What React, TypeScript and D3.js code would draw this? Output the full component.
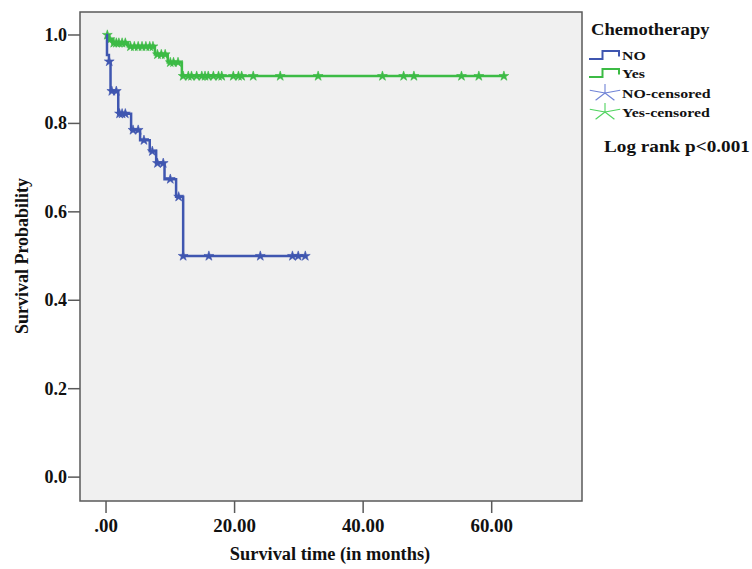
import React, { useRef, useEffect } from "react";
import * as d3 from "d3";

// Kaplan-Meier steps (time in months, survival probability)
const noTimes = [0, 0.15, 0.45, 0.7, 1.9, 3.9, 5.3, 6.8, 7.8, 9.1, 10.9, 12.0, 31.0];
const noSurv = [1.0, 0.955, 0.94, 0.873, 0.822, 0.785, 0.762, 0.737, 0.71, 0.674, 0.634, 0.5, 0.5];
const noCensored = [0.5, 0.9, 1.6, 2.1, 2.5, 3.0, 4.2, 5.0, 5.9, 7.2, 8.0, 8.9, 10.0, 11.3, 12.0, 16.0, 24.0, 29.0, 29.9, 31.0];

const yesTimes = [0, 0.3, 1.0, 3.4, 7.6, 9.6, 11.8, 62.0];
const yesSurv = [1.0, 0.99, 0.982, 0.974, 0.956, 0.938, 0.907, 0.907];
const yesCensored = [
  0.2, 0.6, 1.2, 1.6, 2.0, 2.5, 3.0, 3.8, 4.4, 5.0, 5.6, 6.2, 6.8, 7.3, 8.0, 8.6, 9.2, 10.0, 10.5, 11.2,
  12.0, 12.8, 13.3, 14.1, 14.9, 15.4, 15.9, 16.7, 17.5, 18.0, 19.8, 20.6, 21.1, 22.9, 27.1, 33.0,
  43.0, 46.3, 47.9, 55.3, 58.0, 61.9,
];

const xTicks = [0, 20, 40, 60];
const xTickLabels = [".00", "20.00", "40.00", "60.00"];
const yTicks = [0, 0.2, 0.4, 0.6, 0.8, 1.0];
const yTickLabels = ["0.0", "0.2", "0.4", "0.6", "0.8", "1.0"];

const legendLabels = ["NO", "Yes", "NO-censored", "Yes-censored"];

const BLUE = "#3f56b0";
const GREEN = "#3cbb45";
const BLUE_LIGHT = "#6f82d6";
const GREEN_LIGHT = "#4fd35e";

const W = 752;
const H = 569;
const plot = { left: 80, top: 12, right: 582, bottom: 501 };

const App = () => {
  const svgRef = useRef<SVGSVGElement>(null);

  useEffect(() => {
    const svg = d3.select(svgRef.current);
    svg.selectAll("*").remove();

    const font = "'Liberation Serif', 'Times New Roman', serif";
    const addText = (g, x, y, str, size, anchor, sx = 1, rot = 0) =>
      g
        .append("text")
        .attr("transform", `translate(${x},${y}) rotate(${rot}) scale(${sx},1)`)
        .attr("text-anchor", anchor)
        .style("font-family", font)
        .style("font-weight", "bold")
        .style("font-size", `${size}px`)
        .style("fill", "#111")
        .text(str);

    const xScale = d3.scaleLinear().domain([-4.05, 74.05]).range([plot.left, plot.right]);
    const yScale = d3.scaleLinear().domain([-0.054, 1.052]).range([plot.bottom, plot.top]);

    // plot background + frame
    svg
      .append("rect")
      .attr("x", plot.left)
      .attr("y", plot.top)
      .attr("width", plot.right - plot.left)
      .attr("height", plot.bottom - plot.top)
      .attr("fill", "#f0f0f0")
      .attr("stroke", "#5a5a5a")
      .attr("stroke-width", 1.5);

    // y ticks
    yTicks.forEach((v, i) => {
      svg
        .append("line")
        .attr("x1", plot.left - 12)
        .attr("x2", plot.left)
        .attr("y1", yScale(v))
        .attr("y2", yScale(v))
        .attr("stroke", "#5a5a5a")
        .attr("stroke-width", 1.5);
      addText(svg, plot.left - 13, yScale(v) + 6, yTickLabels[i], 18, "end");
    });

    // x ticks
    xTicks.forEach((v, i) => {
      svg
        .append("line")
        .attr("x1", xScale(v))
        .attr("x2", xScale(v))
        .attr("y1", plot.bottom)
        .attr("y2", plot.bottom + 12)
        .attr("stroke", "#5a5a5a")
        .attr("stroke-width", 1.5);
      addText(svg, xScale(v), 532, xTickLabels[i], 18, "middle", 1.05);
    });

    // axis titles
    addText(svg, (plot.left + plot.right) / 2 - 1, 560, "Survival time (in months)", 18, "middle", 1.02);
    addText(svg, 28, 256, "Survival Probability", 18, "middle", 1, -90);

    // survival curves (step after each event), censored cases as stars
    const drawCurve = (times, surv, censored, color) => {
      const pts = times.map((t, i) => [xScale(t), yScale(surv[i])] as [number, number]);
      svg
        .append("path")
        .attr("d", d3.line().curve(d3.curveStepAfter)(pts))
        .attr("fill", "none")
        .attr("stroke", color)
        .attr("stroke-width", 2.5);

      const star = d3.symbol().type(d3.symbolStar).size(30);
      censored.forEach((t) => {
        const idx = Math.max(0, d3.bisectRight(times, t) - 1);
        svg
          .append("path")
          .attr("d", star())
          .attr("transform", `translate(${xScale(t)},${yScale(surv[idx])})`)
          .attr("fill", color)
          .attr("stroke", color)
          .attr("stroke-width", 0.6);
      });
    };
    drawCurve(yesTimes, yesSurv, yesCensored, GREEN);
    drawCurve(noTimes, noSurv, noCensored, BLUE);

    // legend
    const lg = svg.append("g");
    addText(lg, 591, 35, "Chemotherapy", 16, "start", 1.16);

    const rowY = [55, 73, 93, 112];
    [BLUE, GREEN].forEach((c, i) => {
      const y = rowY[i];
      lg.append("path")
        .attr("d", `M589,${y + 4}H602.5V${y - 4}H619V${y + 1.5}`)
        .attr("fill", "none")
        .attr("stroke", c)
        .attr("stroke-width", 2);
    });
    [BLUE_LIGHT, GREEN_LIGHT].forEach((c, i) => {
      const y = rowY[i + 2];
      const angles = [-90, -18, 54, 126, 198];
      angles.forEach((a) => {
        const r = (a * Math.PI) / 180;
        lg.append("line")
          .attr("x1", 605)
          .attr("y1", y)
          .attr("x2", 605 + 16 * Math.cos(r))
          .attr("y2", y + 9 * Math.sin(r))
          .attr("stroke", c)
          .attr("stroke-width", 1.1);
      });
    });
    legendLabels.forEach((lab, i) => {
      addText(lg, 622, rowY[i] + 5, lab, 13, "start", 1.22);
    });

    addText(svg, 604, 152, "Log rank p<0.001", 17, "start", 1.13);
  }, []);

  return (
    <svg
      ref={svgRef}
      width={W}
      height={H}
      style={{ position: "absolute", left: 0, top: 0, background: "#fff" }}
    />
  );
};

export default App;
